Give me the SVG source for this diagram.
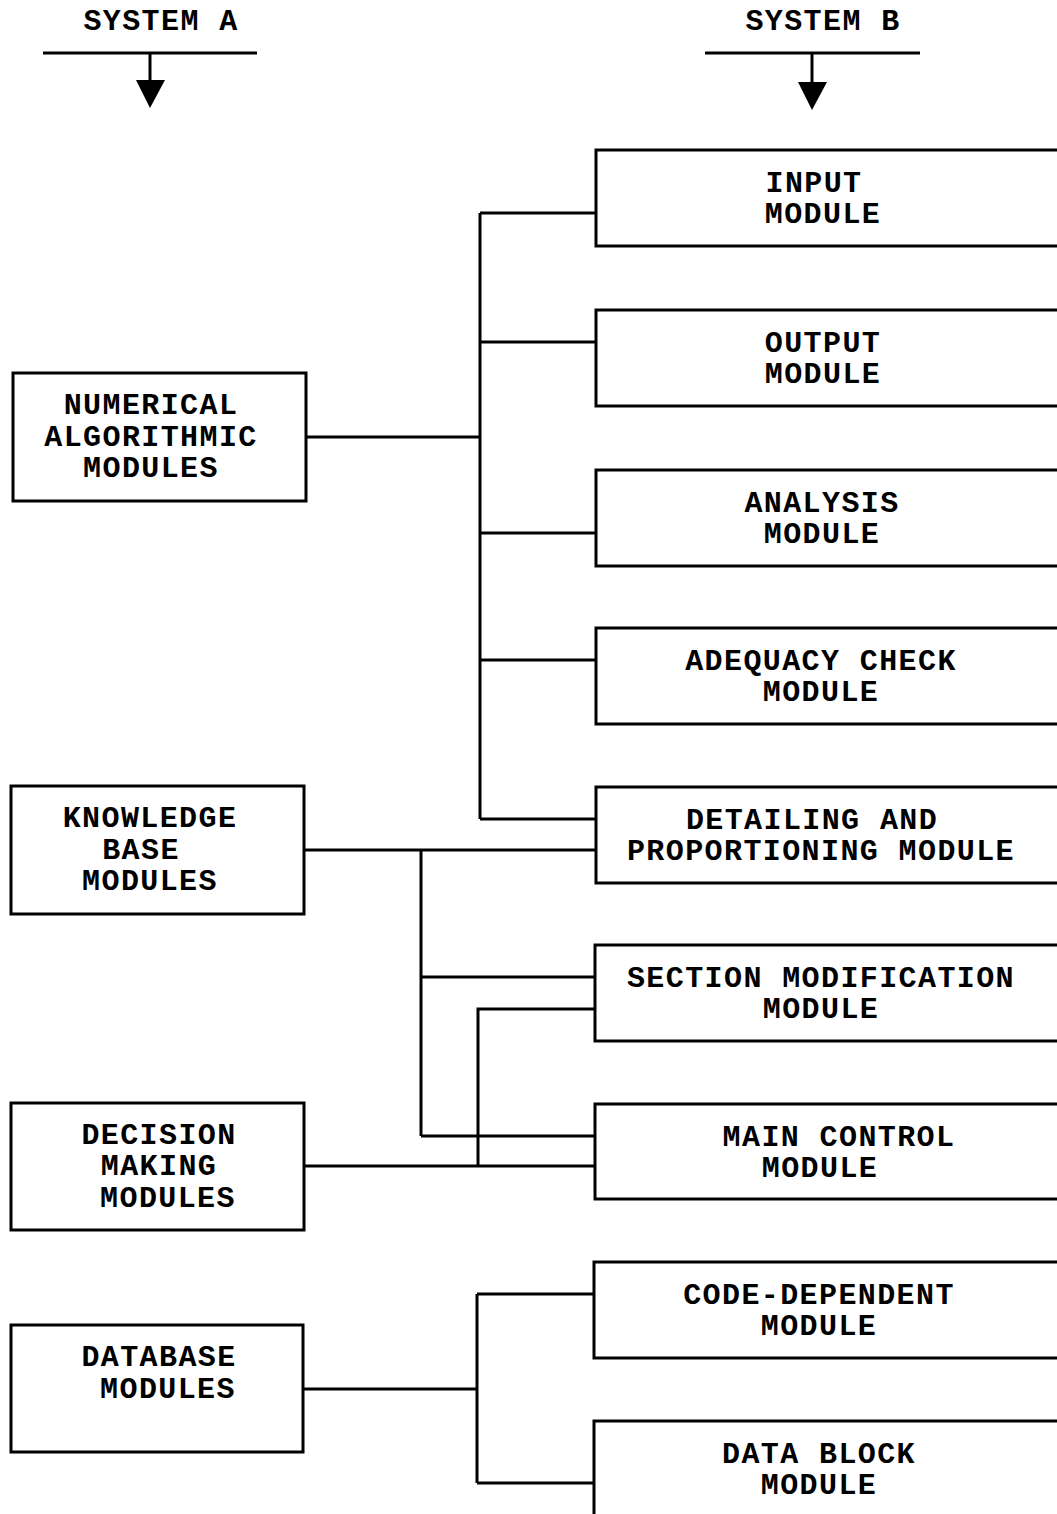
<svg xmlns="http://www.w3.org/2000/svg" width="1057" height="1514" viewBox="0 0 1057 1514">
<style>
.box{fill:#fff;stroke:#000;stroke-width:3}
.ln{fill:none;stroke:#000;stroke-width:3}
text{font-family:"Liberation Mono","Courier New",monospace;font-weight:bold;font-size:30px;letter-spacing:1.4px;text-anchor:middle;fill:#000}
</style>
<rect width="1057" height="1514" fill="#fff"/>
<g id="header-a">
<text x="161" y="30">SYSTEM A</text>
<line class="ln" x1="43" y1="53" x2="257" y2="53"/>
<line class="ln" x1="150" y1="53" x2="150" y2="82"/>
<polygon points="136,80 165,80 150,108" fill="#000"/>
</g>
<g id="header-b">
<text x="823" y="30">SYSTEM B</text>
<line class="ln" x1="705" y1="53" x2="920" y2="53"/>
<line class="ln" x1="812" y1="53" x2="812" y2="84"/>
<polygon points="798,82 827,82 812,110" fill="#000"/>
</g>
<g id="connectors">
<path class="ln" d="M306,437 H480 M480,213 V819 M480,213 H596 M480,342 H596 M480,533 H596 M480,660 H596 M480,819 H596"/>
<path class="ln" d="M304,850 H596 M421,850 V1136 M421,977 H596 M421,1136 H596"/>
<path class="ln" d="M304,1166 H596 M478,1166 V1009 H596"/>
<path class="ln" d="M303,1389 H477 M477,1294 V1483 M477,1294 H594 M477,1483 H594"/>
</g>
<g id="numerical">
<rect class="box" x="13" y="373" width="293" height="128"/>
<text x="151" y="414">NUMERICAL</text>
<text x="151" y="446">ALGORITHMIC</text>
<text x="151" y="477">MODULES</text>
</g>
<g id="knowledge">
<rect class="box" x="11" y="786" width="293" height="128"/>
<text x="150" y="827">KNOWLEDGE</text>
<text x="141" y="859">BASE</text>
<text x="150" y="890">MODULES</text>
</g>
<g id="decision">
<rect class="box" x="11" y="1103" width="293" height="127"/>
<text x="159" y="1144">DECISION</text>
<text x="159" y="1175">MAKING</text>
<text x="168" y="1207">MODULES</text>
</g>
<g id="database">
<rect class="box" x="11" y="1325" width="292" height="127"/>
<text x="159" y="1366">DATABASE</text>
<text x="168" y="1398">MODULES</text>
</g>
<g id="input">
<rect class="box" x="596" y="150" width="480" height="96"/>
<text x="814" y="192">INPUT</text>
<text x="823" y="223">MODULE</text>
</g>
<g id="output">
<rect class="box" x="596" y="310" width="480" height="96"/>
<text x="823" y="352">OUTPUT</text>
<text x="823" y="383">MODULE</text>
</g>
<g id="analysis">
<rect class="box" x="596" y="470" width="480" height="96"/>
<text x="822" y="512">ANALYSIS</text>
<text x="822" y="543">MODULE</text>
</g>
<g id="adequacy">
<rect class="box" x="596" y="628" width="480" height="96"/>
<text x="821" y="670">ADEQUACY CHECK</text>
<text x="821" y="701">MODULE</text>
</g>
<g id="detailing">
<rect class="box" x="596" y="787" width="480" height="96"/>
<text x="812" y="829">DETAILING AND</text>
<text x="821" y="860">PROPORTIONING MODULE</text>
</g>
<g id="section">
<rect class="box" x="595" y="945" width="480" height="96"/>
<text x="821" y="987">SECTION MODIFICATION</text>
<text x="821" y="1018">MODULE</text>
</g>
<g id="main-control">
<rect class="box" x="595" y="1104" width="480" height="95"/>
<text x="839" y="1146">MAIN CONTROL</text>
<text x="820" y="1177">MODULE</text>
</g>
<g id="code-dependent">
<rect class="box" x="594" y="1262" width="480" height="96"/>
<text x="819" y="1304">CODE-DEPENDENT</text>
<text x="819" y="1335">MODULE</text>
</g>
<g id="data-block">
<rect class="box" x="594" y="1421" width="480" height="120"/>
<text x="819" y="1463">DATA BLOCK</text>
<text x="819" y="1494">MODULE</text>
</g>
</svg>
